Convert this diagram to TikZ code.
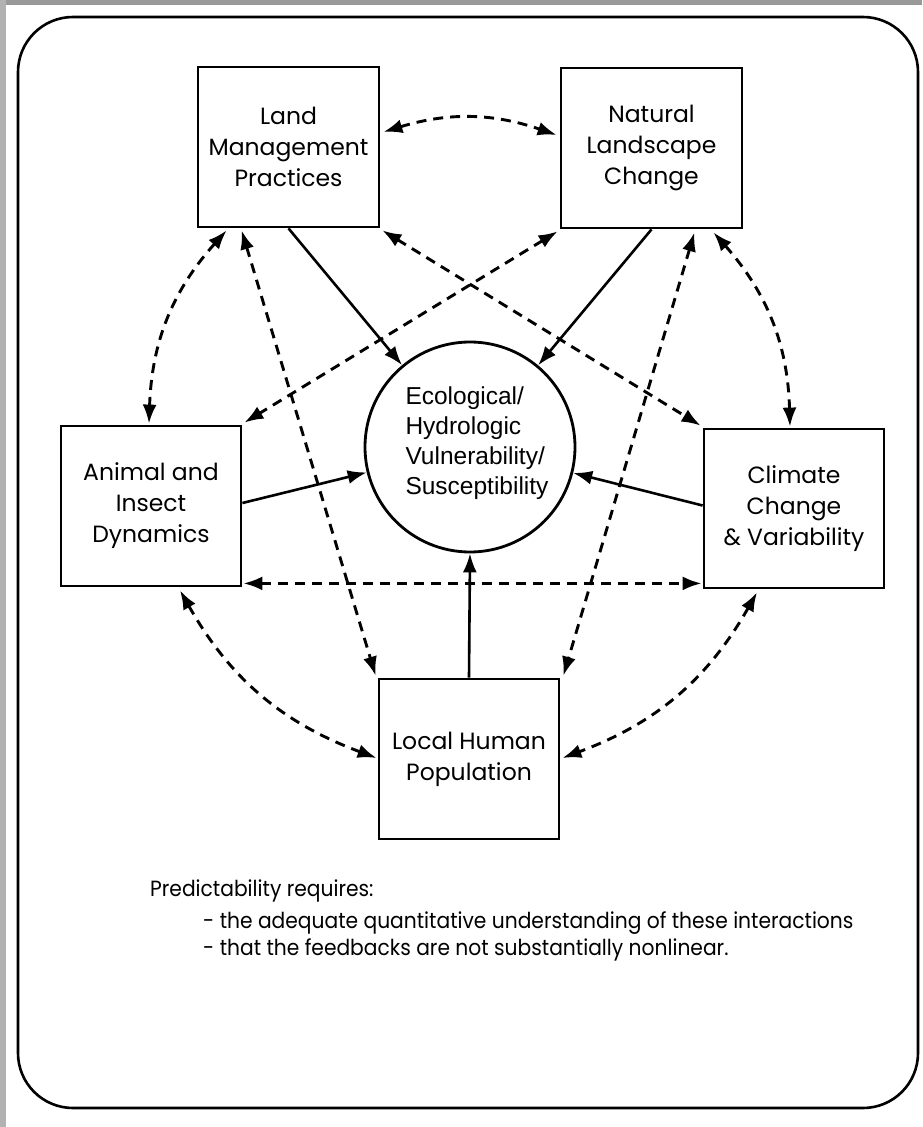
\documentclass[tikz,border=0pt]{standalone}
\usepackage{fontspec}
\setmainfont{Poppins}
\newfontfamily\arialf{Liberation Sans}
\newfontfamily\notef[FakeStretch=0.92]{Poppins}
\usetikzlibrary{arrows.meta,calc}
\begin{document}
\begin{tikzpicture}[x=1pt,y=-1pt,
  box/.style={draw,line width=2.8pt,minimum width=181pt,minimum height=160pt,inner sep=0pt,align=center,font=\fontsize{23.5}{31}\selectfont},
  dep/.style={line width=2.9pt,dash pattern=on 10pt off 7pt,{Latex[length=19pt,width=14pt]}-{Latex[length=19pt,width=14pt]}},
  infl/.style={line width=2.6pt,-{Latex[length=19pt,width=14pt]}},
  note/.style={anchor=base west,inner sep=0pt,font=\notef\fontsize{22}{27}\selectfont}]
\useasboundingbox (0,0) rectangle (922,1127);
\fill[white] (0,0) rectangle (922,1127);
\fill[gray!80] (0,0) rectangle (922,5);
\fill[gray!60] (0,0) rectangle (6,1127);
\draw[line width=2.6pt,rounded corners=55pt] (18,17) rectangle (918,1108);

\node[box] (land) at (288.5,147) {Land\\Management\\Practices};
\node[box] (nat) at (651.5,148) {Natural\\Landscape\\Change};
\node[box,minimum width=180pt] (anim) at (151,506) {Animal and\\Insect\\Dynamics};
\node[box,minimum width=180pt,minimum height=159pt] (clim) at (794,508.5) {Climate\\Change\\\& Variability};
\node[box,minimum width=180pt] (local) at (469,759) {Local Human\\Population};
\node[draw,circle,line width=2.8pt,minimum size=210pt,inner sep=0pt] (eco) at (470,447) {};
\node[align=left,inner sep=0pt,font=\arialf\fontsize{24.5}{30}\selectfont] (ecotext) at (477,443) {Ecological/\\Hydrologic\\Vulnerability/\\Susceptibility};

% solid influences
\draw[infl] (land.south) -- (eco);
\draw[infl] (nat.south) -- (eco);
\draw[infl] ($(anim.east)+(0,-3)$) -- (eco);
\draw[infl] ($(clim.west)+(0,-3)$) -- (eco);
\draw[infl] (local.north) -- (eco.south);

% dashed interactions
\draw[dep] ($(land.east)+(3,-15)$) to[bend left=18] ($(nat.west)+(-3,-13)$);
\draw[dep] ($(land.south west)+(30,2)$) to[bend right=20] ($(anim.north)+(-2,-1)$);
\draw[dep] ($(land.south west)+(45,2)$) -- ($(local.north west)+(-2,-2)$);
\draw[dep] ($(land.south east)+(2,2)$) -- ($(clim.north west)+(-2,-2)$);
\draw[dep] ($(nat.south west)+(-2,2)$) -- ($(anim.north east)+(2,-2)$);
\draw[dep] ($(nat.south)+(43,3)$) -- ($(local.north east)+(3,-2)$);
\draw[dep] ($(nat.south)+(62,3)$) to[bend left=20] ($(clim.north)+(-4,-1)$);
\draw[dep] ($(anim.south east)+(1,-4)$) -- ($(clim.south west)+(-1,-6)$);
\draw[dep] ($(anim.south)+(29,3)$) to[bend right=20] ($(local.west)+(-1,-1)$);
\draw[dep] ($(clim.south)+(-37,3)$) to[bend left=20] ($(local.east)+(2,-1)$);

% note
\node[note] (pred) at (150,896) {Predictability requires:};
\node[note] (req1) at (203,928) {- the adequate quantitative understanding of these interactions};
\node[note] (req2) at (203,955) {- that the feedbacks are not substantially nonlinear.};
\end{tikzpicture}
\end{document}
